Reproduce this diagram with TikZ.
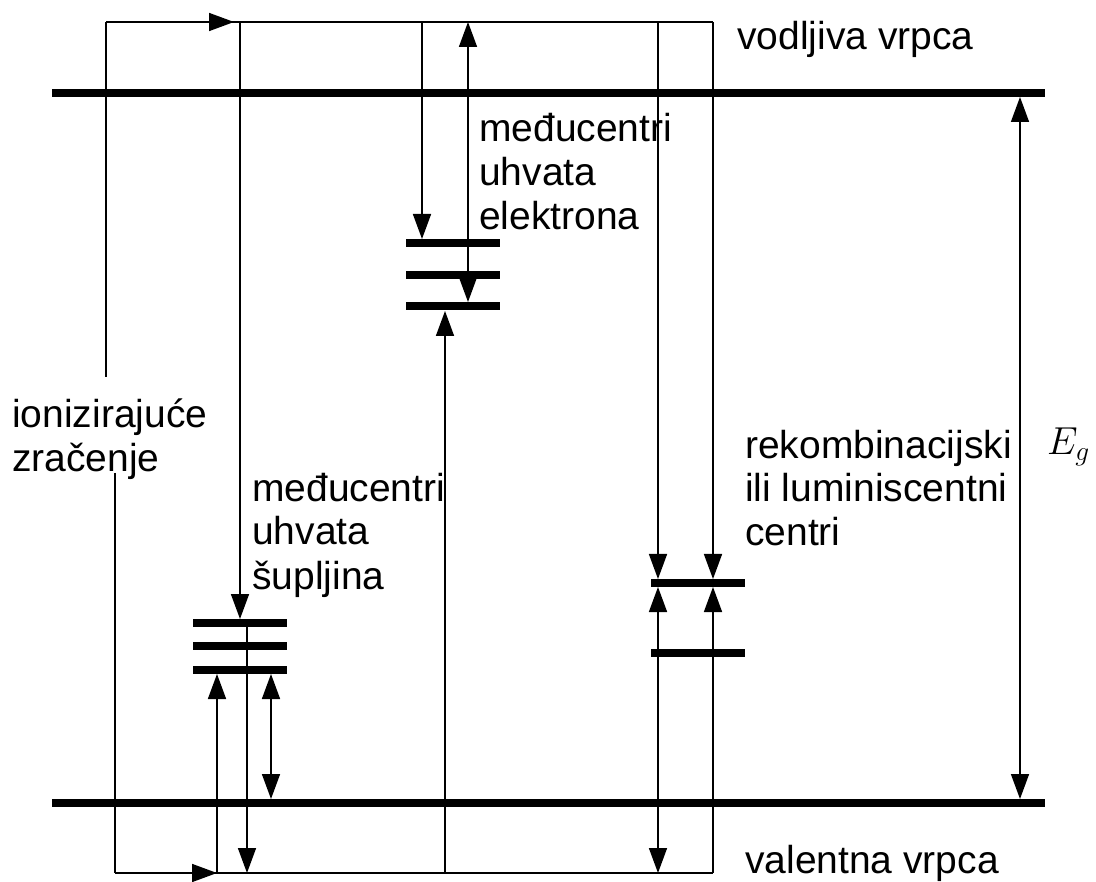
\documentclass[tikz,border=0pt]{standalone}
\usepackage{fix-cm}
\usepackage{fontspec}
\setmainfont{Liberation Sans}
\usetikzlibrary{arrows.meta}

\begin{document}
\begin{tikzpicture}[x=1pt,y={(0pt,-1pt)},
    band/.style={line width=8.5pt},
    trap/.style={line width=8.5pt},
    lbl/.style={anchor=base west,inner sep=0pt,align=left,
      font=\fontsize{39}{44}\selectfont},
    tip/.style={-{Triangle[length=25pt,width=18pt]}},
    twotip/.style={{Triangle[length=25pt,width=18pt]}-{Triangle[length=25pt,width=18pt]}}]

        \useasboundingbox (0,0) rectangle (1096,882);

        \begin{scope}
          \coordinate (r1)   at (106,22);
          \coordinate (r2)   at (713,22);
          \coordinate (s1)   at (115,873);
          \coordinate (s2)   at (713,873);
          \coordinate (src1) at (106,377);
          \coordinate (src2) at (115,473);
          \coordinate (ra)   at (234,22);
          \coordinate (sa)   at (217,873);
          \coordinate (t240) at (240,22);
          \coordinate (t422) at (422,22);
          \coordinate (t468) at (468,22);
          \coordinate (t658) at (658,22);
          \coordinate (b247) at (247,873);
          \coordinate (b445) at (445,873);
          \coordinate (b658) at (658,873);
          \coordinate (h240) at (240,619);
          \coordinate (h247) at (247,623);
          \coordinate (h217) at (217,674);
          \coordinate (h271) at (271,674);
          \coordinate (v271) at (271,799);
          \coordinate (e422) at (422,239);
          \coordinate (e468) at (468,302);
          \coordinate (e445) at (445,311);
          \coordinate (k658) at (658,579);
          \coordinate (k713) at (713,579);
          \coordinate (l658) at (658,587);
          \coordinate (l713) at (713,587);
          \coordinate (gtop) at (1020,97);
          \coordinate (gbot) at (1020,799);
        \end{scope}

        % vrpce i razine
        \draw[band] (52,93) -- (1045,93);
        \draw[band] (52,803) -- (1045,803);
        \foreach \y in {243,275,306} \draw[trap] (406,\y) -- (500,\y);
        \foreach \y in {623,646,670} \draw[trap] (193,\y) -- (287,\y);
        \foreach \y in {583,653} \draw[trap] (651,\y) -- (745,\y);

        \begin{scope}[every edge/.style={draw,line width=1.6pt}]
          \path (src1) edge (r1);
          \path (r1)   edge (r2);
          \path (r1)   edge[tip] (ra);
          \path (src2) edge (s1);
          \path (s1)   edge (s2);
          \path (s1)   edge[tip] (sa);
          \path (t240) edge[tip] (h240);
          \path (h247) edge[tip] (b247);
          \path (sa)   edge[tip] (h217);
          \path (h271) edge[twotip] (v271);
          \path (t422) edge[tip] (e422);
          \path (t468) edge[twotip] (e468);
          \path (b445) edge[tip] (e445);
          \path (t658) edge[tip] (k658);
          \path (r2)   edge[tip] (k713);
          \path (b658) edge[twotip] (l658);
          \path (s2)   edge[tip] (l713);
          \path (gtop) edge[twotip] (gbot);
        \end{scope}

        % base = zadnji redak
        \node[lbl] (cbtxt) at (737,50)  {vodljiva vrpca};
        \node[lbl] (vbtxt) at (745,873) {valentna vrpca};
        \node[lbl] (etxt)  at (479,230) {međucentri\\uhvata\\elektrona};
        \node[lbl] (htxt)  at (252,589) {međucentri\\uhvata\\šupljina};
        \node[lbl] (rtxt)  at (745,546) {rekombinacijski\\ili luminiscentni\\centri};
        \node[lbl] (itxt)  at (12,472)  {ionizirajuće\\zračenje};
        \node[lbl] (eg)    at (1047,455) {$E_g$};

      \end{tikzpicture}
\end{document}
